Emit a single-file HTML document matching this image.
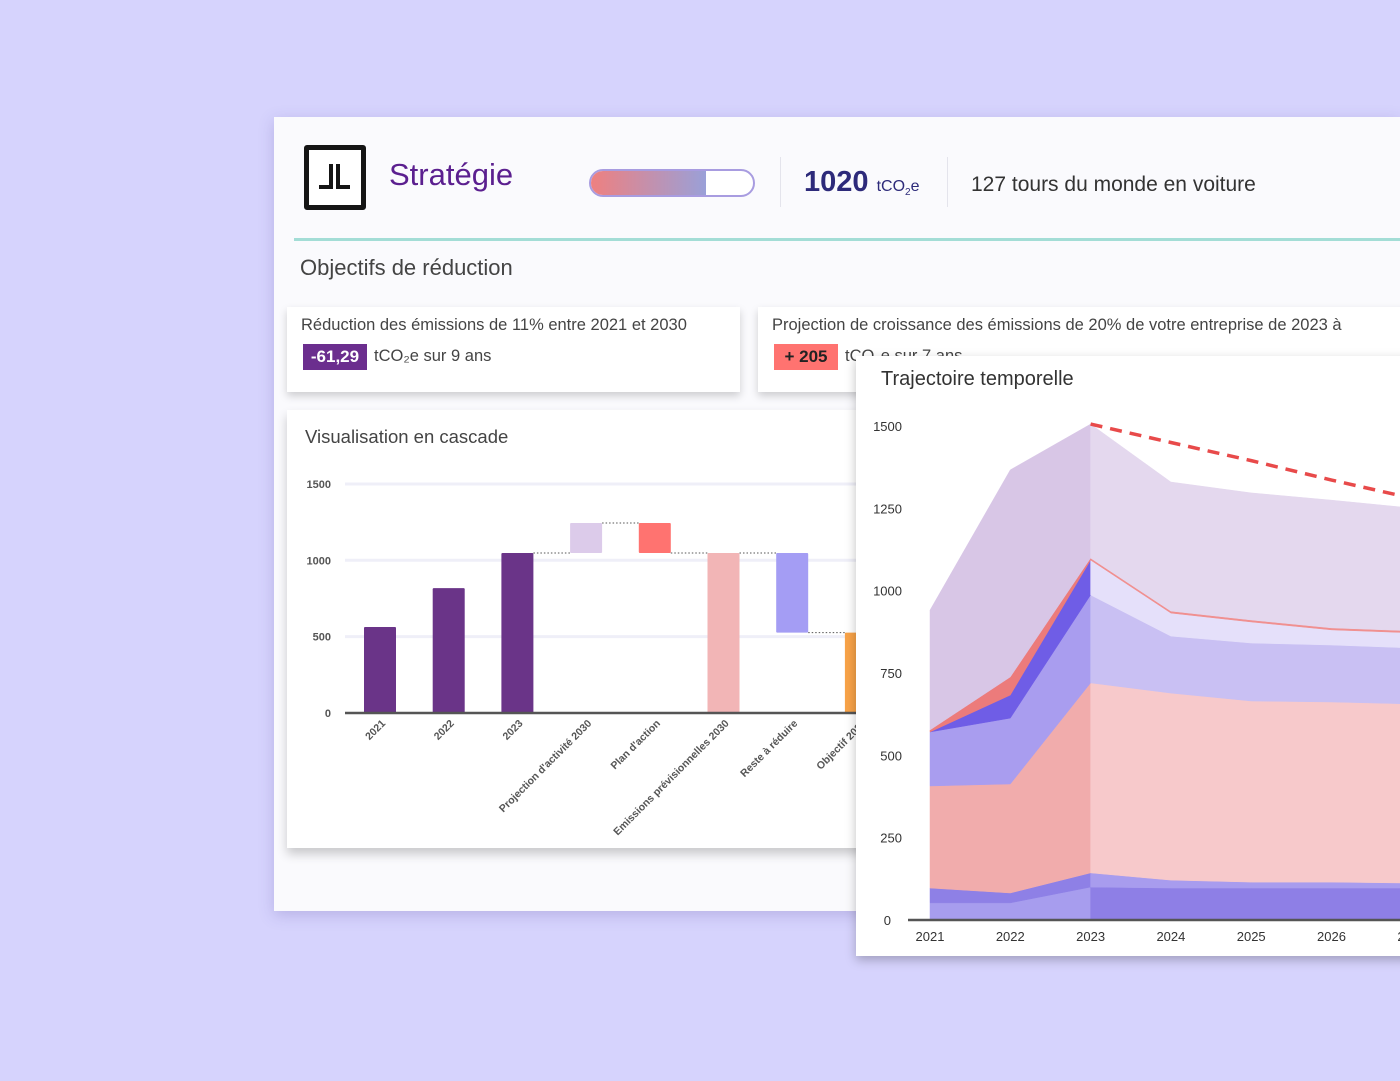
<!DOCTYPE html>
<html><head><meta charset="utf-8">
<style>
*{margin:0;padding:0;box-sizing:border-box}
body{width:1400px;height:1081px;background:#D6D3FD;position:relative;overflow:hidden;font-family:"Liberation Sans",sans-serif;color:#444}
.abs{position:absolute}
.card{position:absolute;background:#fff;box-shadow:0 4px 8px rgba(0,0,0,0.18)}
</style></head><body>
<div class="abs" style="left:274px;top:117px;width:1126px;height:794px;background:#FAFAFD;box-shadow:0 4px 14px rgba(90,80,160,0.25)"></div>

<div class="abs" style="left:304px;top:145px;width:62px;height:65px;border:5px solid #151515;border-radius:3px;background:#fff">
<svg width="52" height="55" style="position:absolute;left:0;top:0"><path d="M22 14 V37 H10 M29 14 V37 H41" stroke="#151515" stroke-width="4" fill="none"/></svg></div>
<div class="abs" style="left:389px;top:157px;font-size:31px;color:#5B1F8F">Stratégie</div>

<div class="abs" style="left:589px;top:169px;width:166px;height:28px;border-radius:14px;border:2px solid #A89CE0;background:#fff;overflow:hidden">
<div style="width:115px;height:100%;background:linear-gradient(90deg,#EE8080,#9AA0D8)"></div></div>
<div class="abs" style="left:780px;top:157px;width:1px;height:50px;background:#E4E4EC"></div>
<div class="abs" style="left:804px;top:166px;font-size:29px;font-weight:bold;color:#2D2A7A">1020 <span style="font-size:16px;font-weight:normal">tCO<sub style="font-size:10px">2</sub>e</span></div>
<div class="abs" style="left:947px;top:157px;width:1px;height:50px;background:#E4E4EC"></div>
<div class="abs" style="left:971px;top:173px;font-size:21px;color:#333">127 tours du monde en voiture</div>
<div class="abs" style="left:294px;top:238px;width:1106px;height:3px;background:#A3DDD6"></div>
<div class="abs" style="left:300px;top:255px;font-size:22px;color:#444">Objectifs de réduction</div>

<div class="card" style="left:287px;top:307px;width:453px;height:85px">
<div class="abs" style="left:14px;top:9px;font-size:16.5px">Réduction des émissions de 11% entre 2021 et 2030</div>
<div class="abs" style="left:16px;top:37px;width:64px;height:26px;background:#6B2E8E;color:#fff;font-weight:bold;font-size:17px;text-align:center;line-height:26px">-61,29</div>
<div class="abs" style="left:87px;top:40px;font-size:16.5px">tCO₂e sur 9 ans</div></div>

<div class="card" style="left:758px;top:307px;width:660px;height:85px">
<div class="abs" style="left:14px;top:9px;font-size:16.5px;white-space:nowrap">Projection de croissance des émissions de 20% de votre entreprise de 2023 à</div>
<div class="abs" style="left:16px;top:37px;width:64px;height:26px;background:#FF7370;color:#222;font-weight:bold;font-size:17px;text-align:center;line-height:26px">+ 205</div>
<div class="abs" style="left:87px;top:40px;font-size:16.5px">tCO₂e sur 7 ans</div></div>

<div class="card" style="left:287px;top:410px;width:600px;height:438px;box-shadow:0 6px 10px rgba(0,0,0,0.2)"></div>
<div class="abs" style="left:305px;top:426px;font-size:18.5px;color:#444">Visualisation en cascade</div>
<svg id="wf" class="abs" style="left:0;top:0" width="1400" height="1081"></svg>

<div class="card" style="left:856px;top:356px;width:560px;height:600px;box-shadow:0 4px 10px rgba(0,0,0,0.25)"></div>
<div class="abs" style="left:881px;top:368px;font-size:20px;color:#333">Trajectoire temporelle</div>
<svg id="tr" class="abs" style="left:0;top:0" width="1400" height="1081"></svg>

<script>
const NS='http://www.w3.org/2000/svg';
function mk(p,t,a){const e=document.createElementNS(NS,t);for(const k in a)e.setAttribute(k,a[k]);p.appendChild(e);return e;}

// ---- waterfall ----
const wfCats=['2021','2022','2023',"Projection d'activité 2030","Plan d'action",'Emissions prévisionnelles 2030','Reste à réduire','Objectif 2030'];
const wfLow=[0,0,0,1048,1048,0,526,0];
const wfHigh=[563,818,1048,1244,1244,1048,1048,526];
const wfColors=['#6A3488','#6A3488','#6A3488','#DCCBEA','#FF7370','#F2B5B6','#A49DF4','#F8A348'];
const wfTicks=[0,500,1000,1500];
const wf=document.getElementById('wf');
const wy=v=>713-v*0.1527, wx=i=>380+i*68.7;
wfTicks.forEach(t=>{
  if(t>0){const g=mk(wf,'line',{x1:345,x2:856,y1:wy(t),y2:wy(t),stroke:'#EFEFF8','stroke-width':3});
  
  }
  const l=mk(wf,'text',{x:331,y:wy(t)+4,'text-anchor':'end','font-size':11,'font-weight':'bold',fill:'#555'});l.textContent=t;
  
  
});
wfCats.forEach((c,i)=>{
  const x=wx(i), r=mk(wf,'rect',{x:x-16,y:wy(wfHigh[i]),width:32,height:wy(wfLow[i])-wy(wfHigh[i]),fill:wfColors[i],rx:1});
  
  
  if(i>=2&&i<wfCats.length-1){const lv=(i<=3||i==5)?wfHigh[i]:wfLow[i];
    const d=mk(wf,'line',{x1:x+16,x2:wx(i+1)-16,y1:wy(lv),y2:wy(lv),stroke:'#555','stroke-dasharray':'1.5 2','stroke-width':1});
    
    }
  const t=mk(wf,'text',{x:x+6,y:724,'text-anchor':'end','font-size':10.5,'font-weight':'bold',fill:'#555',transform:`rotate(-45 ${x+6} 724)`});t.textContent=c;
  
  
});
const ax=mk(wf,'line',{x1:345,x2:856,y1:713,y2:713,stroke:'#555','stroke-width':2.5});



// ---- trajectory stacked area ----
const years=['2021','2022','2023','2024','2025','2026','2027'];
const s1=[52,52,100,97,97,97,97];
const s2=[45,30,43,24,18,18,15];
const s3=[310,331,577,568,550,547,544];
const s4=[164,200,267,173,176,173,170];
const s5=[0,70,106,70,64,46,46];
const s6=[6,55,6,6,6,6,6];
const s7=[364,629,407,392,386,388,373];
const target=[null,null,1506,1450,1395,1336,1281];
const trTicks=[0,250,500,750,1000,1250,1500];
const series=[s1,s2,s3,s4,s5,s6,s7];
const histCol=['#A79DEE','#8E80E6','#F1ACAC','#A99DEF','#6F5DE6','#EC7B7B','#D8C6E6'];
const projCol=['#8E7FE6','#A89CEE','#F7C9CB','#C9C0F3','#E5E0FA','#F09090','#E4D8EE'];
const tr=document.getElementById('tr');
const ty=v=>920-v*0.3293, tx=i=>930+i*80.3;
mk(tr,'clipPath',{id:'cp'}).appendChild(document.createElementNS(NS,'rect'));
const cr=tr.querySelector('#cp rect');cr.setAttribute('x',856);cr.setAttribute('y',356);cr.setAttribute('width',544);cr.setAttribute('height',600);
trTicks.forEach(t=>{const l=mk(tr,'text',{x:t==0?891:902,y:ty(t)+5,'text-anchor':'end','font-size':13,fill:'#333'});l.textContent=t;
  
  });
const cum=years.map(()=>0);
series.forEach((s,k)=>{
  const lo=cum.slice(); s.forEach((v,i)=>cum[i]+=v); const hi=cum.slice();
  [[0,2,histCol[k]],[2,years.length-1,projCol[k]]].forEach(([a,b,col])=>{
    let d='';for(let i=a;i<=b;i++)d+=(i==a?'M':'L')+tx(i)+' '+ty(hi[i]);
    for(let i=b;i>=a;i--)d+='L'+tx(i)+' '+ty(lo[i]);
    const p=mk(tr,'path',{d:d+'Z',fill:col,'clip-path':'url(#cp)',stroke:col,'stroke-width':0.5});
    
    
  });
});
let td='';target.forEach((v,i)=>{if(v!=null)td+=(td?'L':'M')+tx(i)+' '+ty(v);});
const tl=mk(tr,'path',{d:td,fill:'none',stroke:'#E84A4A','stroke-width':3.5,'stroke-dasharray':'12 8','clip-path':'url(#cp)'});


const tax=mk(tr,'line',{x1:908,x2:1400,y1:920,y2:920,stroke:'#555','stroke-width':2.5});


years.forEach((y,i)=>{const l=mk(tr,'text',{x:tx(i),y:941,'text-anchor':'middle','font-size':13,fill:'#333','clip-path':'url(#cp)'});l.textContent=y;
  
  });
</script>
</body></html>
